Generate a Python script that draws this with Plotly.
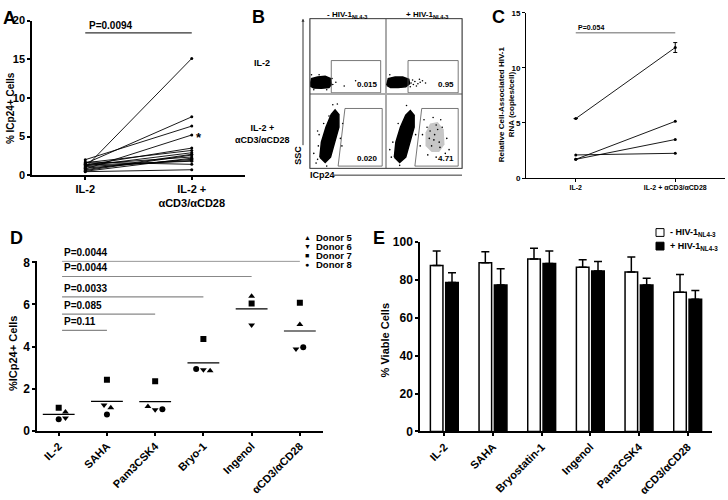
import plotly.graph_objects as go

W, H = 728, 500
FONT = 'Liberation Sans'

# ---------------- Panel A: %ICp24+ cells per donor ----------------
a_groups = ['IL-2', 'IL-2 +<br>αCD3/αCD28']
a_il2 = [1.0, 1.5, 2.0, 0.8, 1.3, 1.6, 1.2, 0.6, 1.4, 0.9, 1.1, 0.5, 1.7, 0.7, 1.3, 0.45]
a_stim = [15.1, 7.55, 6.35, 5.2, 3.5, 3.2, 2.9, 2.6, 2.35, 2.05, 1.9, 2.2, 1.4, 2.7, 1.8, 0.7]
a_pval = 'P=0.0094'
a_pbar = 18.4

# ---------------- Panel B: flow plots (quadrant units 0..1) ----------------
b_values = ['0.015', '0.95', '0.020', '4.71']
gate_tl_x = [0.28, 0.93, 0.93, 0.28, 0.28]
gate_tl_y = [0.01, 0.01, 0.44, 0.44, 0.01]
gate_tr_x = [0.29, 0.95, 0.95, 0.29, 0.29]
gate_tr_y = [0.01, 0.01, 0.44, 0.44, 0.01]
gate_bl_x = [0.37, 0.95, 0.95, 0.46, 0.37]
gate_bl_y = [0.03, 0.03, 0.80, 0.80, 0.03]
gate_br_x = [0.38, 0.95, 0.95, 0.47, 0.38]
gate_br_y = [0.03, 0.03, 0.80, 0.80, 0.03]
blob_tl_x = [0.0, 0.05, 0.15, 0.25, 0.28, 0.27, 0.2, 0.1, 0.02, 0.0]
blob_tl_y = [0.1, 0.075, 0.07, 0.08, 0.12, 0.2, 0.23, 0.22, 0.2, 0.1]
blob_tr_x = [0.01, 0.06, 0.16, 0.26, 0.31, 0.3, 0.22, 0.12, 0.03, 0.01]
blob_tr_y = [0.11, 0.08, 0.08, 0.09, 0.13, 0.19, 0.22, 0.22, 0.2, 0.11]
blob_bl_x = [0.13, 0.15, 0.21, 0.28, 0.33, 0.38, 0.38, 0.33, 0.27, 0.20, 0.13]
blob_bl_y = [0.15, 0.35, 0.55, 0.72, 0.78, 0.72, 0.55, 0.35, 0.15, 0.08, 0.15]
blob_br_x = [0.11, 0.13, 0.19, 0.26, 0.32, 0.37, 0.37, 0.32, 0.26, 0.18, 0.11]
blob_br_y = [0.15, 0.35, 0.55, 0.71, 0.77, 0.71, 0.55, 0.35, 0.15, 0.08, 0.15]
haze_br_x = [0.52, 0.60, 0.70, 0.77, 0.76, 0.68, 0.58, 0.52, 0.52]
haze_br_y = [0.30, 0.22, 0.22, 0.32, 0.52, 0.62, 0.60, 0.48, 0.30]
dots_tl_x = [0.02, 0.05, 0.30, 0.34, 0.45, 0.60, 0.29, 0.12, 0.22]
dots_tl_y = [0.25, 0.05, 0.12, 0.15, 0.10, 0.17, 0.20, 0.25, 0.05]
dots_tr_x = [0.33, 0.36, 0.38, 0.42, 0.45, 0.48, 0.35, 0.40, 0.52, 0.32, 0.44, 0.05]
dots_tr_y = [0.14, 0.12, 0.16, 0.13, 0.15, 0.17, 0.18, 0.10, 0.14, 0.09, 0.19, 0.25]
dots_bl_x = [0.10, 0.11, 0.18, 0.30, 0.43, 0.08, 0.40, 0.05, 0.22, 0.36, 0.12, 0.25, 0.42, 0.10]
dots_bl_y = [0.12, 0.30, 0.60, 0.85, 0.60, 0.07, 0.40, 0.20, 0.03, 0.86, 0.45, 0.70, 0.30, 0.50]
dots_br_x = [0.07, 0.09, 0.16, 0.27, 0.05, 0.18, 0.39, 0.45, 0.50, 0.55, 0.62, 0.66, 0.72, 0.80,
             0.57, 0.64, 0.70, 0.74, 0.48, 0.83, 0.60, 0.68, 0.54, 0.78, 0.63, 0.71, 0.58, 0.66]
dots_br_y = [0.15, 0.35, 0.60, 0.84, 0.25, 0.04, 0.45, 0.30, 0.65, 0.18, 0.68, 0.15, 0.65, 0.40,
             0.40, 0.45, 0.35, 0.55, 0.45, 0.25, 0.30, 0.52, 0.55, 0.20, 0.38, 0.28, 0.50, 0.58]

# ---------------- Panel C: cell-associated HIV-1 RNA ----------------
c_groups = ['IL-2', 'IL-2 + αCD3/αCD28']
c_il2 = [5.4, 2.1, 1.7, 1.7]
c_stim = [11.85, 2.25, 5.15, 3.5]
c_err = [0.45, 0, 0, 0]
c_pval = 'P=0.054'
c_pbar = 13.2

# ---------------- Panel D: LRA screen per donor ----------------
d_groups = ['IL-2', 'SAHA', 'Pam3CSK4', 'Bryo-1', 'Ingenol', 'αCD3/αCD28']
d_donor5 = [0.89, 1.09, 1.15, 2.85, 6.39, 5.05]   # triangle-up
d_donor6 = [0.61, 1.23, 1.00, 2.90, 5.03, 3.89]   # triangle-down
d_donor7 = [1.09, 2.43, 2.35, 4.36, 6.05, 6.08]   # square
d_donor8 = [0.55, 0.77, 1.02, 2.94, None, 3.97]   # circle
d_off5 = [0.14, 0.08, -0.15, 0.14, 0.0, 0.0]
d_off6 = [0.14, -0.06, 0.0, 0.0, 0.0, -0.08]
d_off7 = [0.0, 0.0, 0.0, 0.0, 0.0, 0.0]
d_off8 = [0.0, 0.0, 0.15, -0.15, 0.0, 0.07]
d_means = [0.78, 1.40, 1.39, 3.23, 5.79, 4.74]
d_pvals = ['P=0.11', 'P=0.085', 'P=0.0033', 'P=0.0044', 'P=0.0044']
d_pbars = [4.77, 5.54, 6.36, 7.33, 8.06]

# ---------------- Panel E: viability ----------------
e_groups = ['IL-2', 'SAHA', 'Bryostatin-1', 'Ingenol', 'Pam3CSK4', 'αCD3/αCD28']
e_mock = [87.5, 89.0, 91.0, 86.7, 84.1, 73.5]
e_mock_err = [7.7, 5.8, 5.6, 3.9, 7.9, 9.3]
e_hiv = [78.6, 77.3, 88.6, 84.6, 77.3, 69.7]
e_hiv_err = [5.2, 8.5, 6.6, 5.1, 3.6, 4.7]


def px(x):
    return x / W


def py(y):
    return 1 - y / H


def ax_style(**kw):
    d = dict(showline=True, linecolor='black', linewidth=1.5, ticks='outside', ticklen=3,
             tickwidth=1.5, tickcolor='black', showgrid=False, zeroline=False,
             tickfont=dict(family=FONT, size=10, color='black', weight='bold'))
    d.update(kw)
    return d


def label(x, y, text, size, angle=0, xa='center', ya='middle'):
    return dict(x=px(x), y=py(y), xref='paper', yref='paper', text=text, showarrow=False,
                xanchor=xa, yanchor=ya, textangle=angle, font=dict(size=size))


fig = go.Figure()
ann = []
shapes = []

# ---- A ----
for l, r in zip(a_il2, a_stim):
    fig.add_trace(go.Scatter(x=a_groups, y=[l, r], mode='lines+markers', xaxis='x', yaxis='y',
                             line=dict(color='black', width=0.9), marker=dict(size=3, color='black'),
                             showlegend=False, hoverinfo='skip'))
fig.add_trace(go.Scatter(x=a_groups, y=[a_pbar, a_pbar], mode='lines', xaxis='x', yaxis='y',
                         line=dict(color='#333', width=1.2), showlegend=False))
ann.append(dict(x=a_groups[0], y=a_pbar, xref='x', yref='y', text='<b>' + a_pval + '</b>', showarrow=False,
                xanchor='left', yanchor='bottom', xshift=2, font=dict(size=10)))
ann.append(dict(x=a_groups[1], y=a_stim[3], xref='x', yref='y', text='<b>*</b>', showarrow=False,
                xanchor='left', yanchor='middle', xshift=2, yshift=-3, font=dict(size=13)))

# ---- B ----
b_gx = [gate_tl_x, gate_tr_x, gate_bl_x, gate_br_x]
b_gy = [gate_tl_y, gate_tr_y, gate_bl_y, gate_br_y]
b_bx = [blob_tl_x, blob_tr_x, blob_bl_x, blob_br_x]
b_by = [blob_tl_y, blob_tr_y, blob_bl_y, blob_br_y]
b_dx = [dots_tl_x, dots_tr_x, dots_bl_x, dots_br_x]
b_dy = [dots_tl_y, dots_tr_y, dots_bl_y, dots_br_y]
for i in range(4):
    xa, ya = 'x%d' % (i + 2), 'y%d' % (i + 2)
    if i == 3:
        fig.add_trace(go.Scatter(x=haze_br_x, y=haze_br_y, mode='lines', fill='toself', xaxis=xa, yaxis=ya,
                                 fillcolor='rgba(0,0,0,0.22)', line=dict(width=0), showlegend=False))
    fig.add_trace(go.Scatter(x=b_bx[i], y=b_by[i], mode='lines', fill='toself', xaxis=xa, yaxis=ya,
                             fillcolor='black', line=dict(color='black', width=1.5), showlegend=False))
    fig.add_trace(go.Scatter(x=b_dx[i], y=b_dy[i], mode='markers', xaxis=xa, yaxis=ya,
                             marker=dict(size=1.6, color='black'), showlegend=False))
    fig.add_trace(go.Scatter(x=b_gx[i], y=b_gy[i], mode='lines', xaxis=xa, yaxis=ya,
                             line=dict(color='#555', width=0.8), showlegend=False))
    ann.append(dict(x=0.92, y=0.04, xref=xa, yref=ya, text='<b>' + b_values[i] + '</b>', showarrow=False,
                    xanchor='right', yanchor='bottom', font=dict(size=8)))

# ---- C ----
for l, r, e in zip(c_il2, c_stim, c_err):
    fig.add_trace(go.Scatter(x=c_groups, y=[l, r], mode='lines+markers', xaxis='x6', yaxis='y6',
                             line=dict(color='black', width=0.9), marker=dict(size=3, color='black'),
                             error_y=dict(type='data', array=[0, e], color='black', thickness=1, width=2,
                                          visible=e > 0),
                             showlegend=False))
fig.add_trace(go.Scatter(x=c_groups, y=[c_pbar, c_pbar], mode='lines', xaxis='x6', yaxis='y6',
                         line=dict(color='#999', width=1.5), showlegend=False))
ann.append(dict(x=c_groups[0], y=c_pbar, xref='x6', yref='y6', text='<b>' + c_pval + '</b>', showarrow=False,
                xanchor='left', yanchor='bottom', font=dict(size=7)))

# ---- D ----
d_x = list(range(len(d_groups)))
for vals, offs, sym in [(d_donor5, d_off5, 'triangle-up'), (d_donor6, d_off6, 'triangle-down'),
                        (d_donor7, d_off7, 'square'), (d_donor8, d_off8, 'circle')]:
    fig.add_trace(go.Scatter(x=[x + o for x, o in zip(d_x, offs)], y=vals, mode='markers',
                             xaxis='x7', yaxis='y7', marker=dict(symbol=sym, size=6, color='black'),
                             showlegend=False))
for x, m in zip(d_x, d_means):
    fig.add_trace(go.Scatter(x=[x - 0.33, x + 0.33], y=[m, m], mode='lines', xaxis='x7', yaxis='y7',
                             line=dict(color='black', width=1.2), showlegend=False))
for k, (p, v) in enumerate(zip(d_pvals, d_pbars), start=1):
    fig.add_trace(go.Scatter(x=[0.07, k], y=[v, v], mode='lines', xaxis='x7', yaxis='y7',
                             line=dict(color='#888', width=1.2), showlegend=False, cliponaxis=False))
    ann.append(dict(x=0.07, y=v, xref='x7', yref='y7', text='<b>' + p + '</b>', showarrow=False,
                    xanchor='left', yanchor='bottom', yshift=1, font=dict(size=10)))
for j, (g, lab) in enumerate([('▲', 'Donor 5'), ('▼', 'Donor 6'), ('■', 'Donor 7'), ('●', 'Donor 8')]):
    yy = 237 + j * 9.4
    ann.append(label(307, yy, g, 7))
    ann.append(label(314, yy, '<b>' + lab + '</b>', 9.5, xa='left'))

# ---- E ----
fig.add_trace(go.Bar(x=e_groups, y=e_mock, xaxis='x8', yaxis='y8', name='- HIV-1',
                     marker=dict(color='white', line=dict(color='black', width=1.5)),
                     error_y=dict(type='data', array=e_mock_err, arrayminus=[0] * 6, symmetric=False,
                                  color='black', thickness=1.5, width=4), showlegend=False))
fig.add_trace(go.Bar(x=e_groups, y=e_hiv, xaxis='x8', yaxis='y8', name='+ HIV-1',
                     marker=dict(color='black', line=dict(color='black', width=1.5)),
                     error_y=dict(type='data', array=e_hiv_err, arrayminus=[0] * 6, symmetric=False,
                                  color='black', thickness=1.5, width=4), showlegend=False))
shapes.append(dict(type='rect', xref='paper', yref='paper', x0=px(656), x1=px(664), y0=py(236), y1=py(228),
                   line=dict(color='black', width=1), fillcolor='white'))
shapes.append(dict(type='rect', xref='paper', yref='paper', x0=px(656), x1=px(664), y0=py(250), y1=py(242),
                   line=dict(color='black', width=1), fillcolor='black'))
ann.append(label(668, 232, '<b>- HIV-1<sub>NL4-3</sub></b>', 9, xa='left'))
ann.append(label(668, 246, '<b>+ HIV-1<sub>NL4-3</sub></b>', 9, xa='left'))

# ---- B decorations (headers, row labels, SSC / ICp24 axes) ----
ann.append(label(347, 8, '<b>- HIV-1<sub>NL4-3</sub></b>', 8))
ann.append(label(427, 8, '<b>+ HIV-1<sub>NL4-3</sub></b>', 8))
ann.append(label(262, 58, '<b>IL-2</b>', 9))
ann.append(label(262, 131, '<b>IL-2 +<br>αCD3/αCD28</b>', 9))
ann.append(label(308, 173, '<b>ICp24</b>', 9, xa='left'))
ann.append(label(298, 153, '<b>SSC</b>', 9, angle=-90))
ann.append(dict(x=px(303), y=py(12), ax=0, ay=128, xref='paper', yref='paper', axref='pixel',
                ayref='pixel', text='', showarrow=True, arrowhead=2, arrowsize=0.6, arrowwidth=1,
                arrowcolor='#333'))
shapes.append(dict(type='line', xref='paper', yref='paper', x0=px(334), x1=px(462), y0=py(173), y1=py(173),
                   line=dict(color='#333', width=1)))
shapes.append(dict(type='rect', xref='paper', yref='paper', x0=px(310), x1=px(462), y0=py(166), y1=py(12),
                   line=dict(color='#444', width=1)))

# ---- axis titles and panel letters ----
ann.append(label(10, 104, '<b>% ICp24+ Cells</b>', 10, angle=-90))
ann.append(label(506, 100, '<b>Relative Cell-Associated HIV-1<br>RNA (copies/cell)</b>', 8, angle=-90))
ann.append(label(13, 356, '<b>%ICp24+ Cells</b>', 11, angle=-90))
ann.append(label(385, 343, '<b>% Viable Cells</b>', 11, angle=-90))
for x, y, t in [(9, 11, 'A'), (258, 10, 'B'), (498, 10, 'C'), (16, 238, 'D'), (379, 238, 'E')]:
    ann.append(label(x, y, '<b>' + t + '</b>', 18))

quad_dom_x = [(310, 386), (386, 462), (310, 386), (386, 462)]
quad_dom_y = [(89, 12), (89, 12), (166, 89), (166, 89)]
layout_axes = {}
for i in range(4):
    n = i + 2
    layout_axes['xaxis%d' % n] = dict(domain=[px(quad_dom_x[i][0]), px(quad_dom_x[i][1])], range=[0, 1],
                                      anchor='y%d' % n, showline=True, mirror=True, linecolor='#aaa',
                                      linewidth=1, showticklabels=False, ticks='', showgrid=False, zeroline=False)
    layout_axes['yaxis%d' % n] = dict(domain=[py(quad_dom_y[i][0]), py(quad_dom_y[i][1])], range=[0, 1],
                                      anchor='x%d' % n, showline=True, mirror=True, linecolor='#aaa',
                                      linewidth=1, showticklabels=False, ticks='', showgrid=False, zeroline=False)

fig.update_layout(
    width=W, height=H, margin=dict(l=0, r=0, t=0, b=0),
    paper_bgcolor='white', plot_bgcolor='white',
    font=dict(family=FONT, color='black'),
    barmode='group', bargap=0.37, bargroupgap=0.18,
    xaxis=ax_style(domain=[px(32), px(245)], range=[-0.5, 1.5], anchor='y', type='category',
                   tickfont=dict(family=FONT, size=11, weight='bold')),
    yaxis=ax_style(domain=[py(173), py(14)], range=[0, 20], anchor='x', tickvals=[0, 5, 10, 15, 20],
                   tickfont=dict(family=FONT, size=11, weight='bold')),
    xaxis6=ax_style(domain=[px(526), px(725)], range=[-0.5, 1.5], anchor='y6', type='category',
                    linewidth=1, tickwidth=1, ticklen=3, tickfont=dict(family=FONT, size=7, weight='bold')),
    yaxis6=ax_style(domain=[py(176), py(6)], range=[0, 15], anchor='x6', tickvals=[0, 5, 10, 15],
                    linewidth=1, tickwidth=1, ticklen=3, tickfont=dict(family=FONT, size=8, weight='bold')),
    xaxis7=ax_style(domain=[px(37), px(323)], range=[-0.45, 5.48], anchor='y7', tickvals=d_x,
                    ticktext=d_groups, tickangle=-45, tickfont=dict(family=FONT, size=11, weight='bold')),
    yaxis7=ax_style(domain=[py(436), py(261)], range=[0, 8.08], anchor='x7', tickvals=[0, 2, 4, 6, 8],
                    tickfont=dict(family=FONT, size=12, weight='bold')),
    xaxis8=ax_style(domain=[px(420), px(712)], range=[-0.5, 5.5], anchor='y8', type='category',
                    tickangle=-45, tickfont=dict(family=FONT, size=11, weight='bold')),
    yaxis8=ax_style(domain=[py(436.7), py(241.7)], range=[0, 100], anchor='x8', tickvals=[0, 20, 40, 60, 80, 100],
                    tickfont=dict(family=FONT, size=12, weight='bold')),
    annotations=ann, shapes=shapes,
    **layout_axes,
)

# drop the browser's default 8px body margin so the figure fills the window
fig.write_html("out.html", config={'displayModeBar': False},
               post_script="document.body.style.margin='0';")
